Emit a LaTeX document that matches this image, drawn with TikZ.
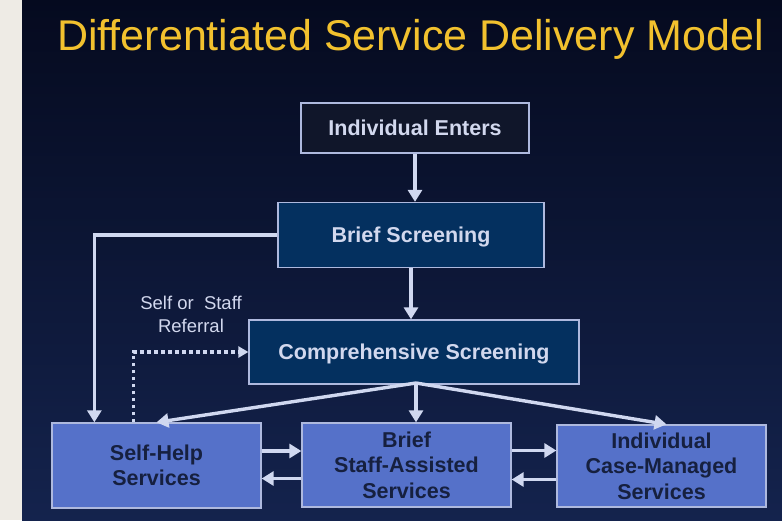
\documentclass[tikz,border=0pt]{standalone}
\usepackage{fontspec}
\setmainfont{Liberation Sans}
\usepackage{xcolor}
\usetikzlibrary{arrows.meta, positioning}

\definecolor{pagegray}{HTML}{EEEBE5}
\definecolor{navytop}{HTML}{050A1F}
\definecolor{navybot}{HTML}{14234D}
\definecolor{titleyellow}{HTML}{F2C12E}
\definecolor{boxline}{HTML}{AEB9DE}
\definecolor{linkcol}{HTML}{D0D8F0}
\definecolor{enterfill}{HTML}{10162A}
\definecolor{screenfill}{HTML}{04305F}
\definecolor{servfill}{HTML}{5571C9}
\definecolor{servtext}{HTML}{16203F}
\definecolor{lighttext}{HTML}{D2D8EE}

\begin{document}
\begin{tikzpicture}[
    x=1pt, y=-1pt,
    block/.style={rectangle, draw=boxline, line width=1.3pt, inner sep=0pt, align=center,
        font=\fontsize{21.5}{25.5}\selectfont\bfseries},
    topblock/.style={block, text=lighttext, text height=15.4pt, text depth=0pt},
    servblock/.style={block, fill=servfill, text=servtext, minimum width=209pt},
    arrow/.style={draw=linkcol, line width=3.4pt, -{Triangle[length=12pt, width=14pt]}},
    dotarrow/.style={draw=linkcol, line width=3.4pt, dash pattern=on 3.5pt off 3.5pt,
        -{Triangle[length=10pt, width=11pt]}}
]

% Background
\useasboundingbox (0,0) rectangle (782,520);
\fill[pagegray] (0,0) rectangle (782,520);
\shade[top color=navytop, bottom color=navybot] (22,0) rectangle (782,520);

% Title
\node[anchor=base west, text=titleyellow, inner sep=0pt,
    font=\fontsize{43}{43}\selectfont] (title) at (57,50) {Differentiated Service Delivery Model};

% Screening steps
\node[topblock, fill=enterfill, minimum width=228pt, minimum height=50pt] (enter) at (415,128) {Individual Enters};
\node[topblock, fill=screenfill, minimum width=266pt, minimum height=65pt] (brief) at (411,235) {Brief Screening};
\node[topblock, fill=screenfill, minimum width=330pt, minimum height=64pt] (compr) at (414,352) {Comprehensive Screening};

% Service levels
\node[servblock, minimum height=85pt] (self) at (156.5,465.5) {Self-Help\\Services};
\node[servblock, minimum height=84pt] (staff) at (406.5,465) {Brief\\Staff-Assisted\\Services};
\node[servblock, minimum height=82pt] (casem) at (661.5,466) {Individual\\Case-Managed\\Services};

% Referral label
\node[text=lighttext, align=center, inner sep=0pt,
    font=\fontsize{18.5}{23}\selectfont] (refer) at (191,314) {Self or\ \ Staff\\Referral};

% Arrows
\coordinate (fan) at (416,383);
\draw[arrow] (enter.south) -- (enter.south |- brief.north);
\draw[arrow] (brief.south) -- (brief.south |- compr.north);
\draw[arrow] (brief.west) -| ([xshift=43pt]self.north west);
\draw[dotarrow] ([xshift=82pt]self.north west) |- (compr.west);
\draw[arrow] (fan) -- (self.north);
\draw[arrow] (fan) -- (fan |- staff.north);
\draw[arrow] (fan) -- ([xshift=5pt]casem.north);
\draw[arrow] ([yshift=14.5pt]self.east) -- ([yshift=14.5pt]self.east -| staff.west);
\draw[arrow] ([yshift=-13.5pt]staff.west) -- ([yshift=-13.5pt]staff.west -| self.east);
\draw[arrow] ([yshift=14.5pt]staff.east) -- ([yshift=14.5pt]staff.east -| casem.west);
\draw[arrow] ([yshift=-13.5pt]casem.west) -- ([yshift=-13.5pt]casem.west -| staff.east);

\end{tikzpicture}
\end{document}
